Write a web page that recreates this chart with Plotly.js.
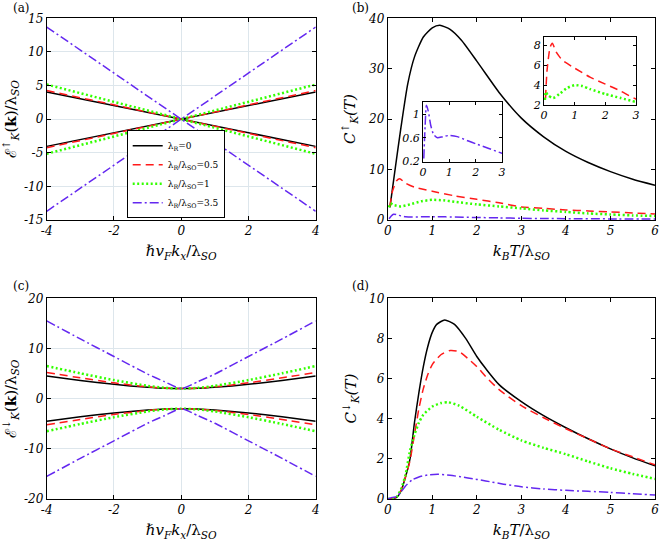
<!DOCTYPE html>
<html>
<head>
<meta charset="utf-8">
<script src="https://cdn.plot.ly/plotly-3.0.1.min.js"></script>
<style>html,body{margin:0;padding:0;background:#fff;}#chart{width:661px;height:543px;}</style>
</head>
<body>
<div id="chart"></div>
<script>
// ---------- data ----------
const seriesNames = ["λ<sub>R</sub>=0", "λ<sub>R</sub>/λ<sub>SO</sub>=0.5", "λ<sub>R</sub>/λ<sub>SO</sub>=1", "λ<sub>R</sub>/λ<sub>SO</sub>=3.5"];

const kA = [-4, -2, 0, 2, 4];
const aBlackRise = [-4.05, -2.02, 0, 2.02, 4.05];
const aBlackFall = [4.05, 2.02, 0, -2.02, -4.05];
const aRedRise = [-4.25, -2.12, 0, 2.12, 4.25];
const aRedFall = [4.25, 2.12, 0, -2.12, -4.25];
const aGreenRise = [-5.15, -2.57, 0, 2.57, 5.15];
const aGreenFall = [5.15, 2.57, 0, -2.57, -5.15];
const aBlueRise = [-13.7, -6.85, 0, 6.85, 13.7];
const aBlueFall = [13.7, 6.85, 0, -6.85, -13.7];

const kC = [-4, -3, -2, -1, -0.5, 0, 0.5, 1, 2, 3, 4];
const cBlackUp = [4.5, 3.6, 2.85, 2.25, 2.05, 2, 2.05, 2.25, 2.85, 3.6, 4.5];
const cBlackDn = [-4.5, -3.6, -2.85, -2.25, -2.05, -2, -2.05, -2.25, -2.85, -3.6, -4.5];
const cRedUp = [5.2, 4.15, 3.15, 2.35, 2.1, 2, 2.1, 2.35, 3.15, 4.15, 5.2];
const cRedDn = [-5.2, -4.15, -3.15, -2.35, -2.1, -2, -2.1, -2.35, -3.15, -4.15, -5.2];
const cGreenUp = [6.5, 5.05, 3.7, 2.55, 2.15, 2, 2.15, 2.55, 3.7, 5.05, 6.5];
const cGreenDn = [-6.5, -5.05, -3.7, -2.55, -2.15, -2, -2.15, -2.55, -3.7, -5.05, -6.5];
const cBlueUp = [15.5, 11.9, 8.4, 4.9, 3.4, 2, 3.4, 4.9, 8.4, 11.9, 15.5];
const cBlueDn = [-15.5, -11.9, -8.4, -4.9, -3.4, -2, -3.4, -4.9, -8.4, -11.9, -15.5];

const bTBlack = [0.05, 0.15, 0.3, 0.45, 0.6, 0.8, 1.0, 1.17, 1.4, 1.66, 2.0, 2.2, 2.5, 3.0, 3.5, 4.0, 4.5, 5.0, 5.5, 6.0];
const bCBlack = [2.5, 9, 18.5, 27, 32.3, 36.3, 38.1, 38.6, 37.8, 35.6, 31.5, 29, 25.3, 20.2, 16.5, 13.6, 11.4, 9.6, 8.1, 6.9];
const bTRed = [0.05, 0.1, 0.2, 0.27, 0.4, 0.6, 1.0, 1.5, 2.0, 2.5, 3.0, 3.5, 4.0, 4.5, 5.0, 5.5, 6.0];
const bCRed = [2.7, 5.5, 7.8, 8.2, 7.3, 6.5, 5.7, 4.8, 4.1, 3.4, 2.6, 2.3, 2.0, 1.8, 1.6, 1.4, 1.2];
const bTGreen = [0.03, 0.06, 0.12, 0.3, 0.5, 0.75, 1.0, 1.25, 1.5, 2.0, 2.5, 3.0, 3.5, 4.0, 4.5, 5.0, 5.5, 6.0];
const bCGreen = [2.5, 3.3, 3.0, 2.7, 3.1, 3.7, 4.0, 3.9, 3.6, 3.1, 2.7, 2.3, 1.9, 1.6, 1.3, 1.1, 0.9, 0.8];
const bTBlue = [0.03, 0.08, 0.13, 0.2, 0.3, 0.4, 0.55, 0.75, 1.0, 1.3, 1.7, 2.0, 2.5, 3.0, 3.5, 4.0, 5.0, 6.0];
const bCBlue = [0.25, 0.8, 1.15, 1.05, 0.8, 0.66, 0.6, 0.62, 0.64, 0.62, 0.55, 0.5, 0.42, 0.34, 0.3, 0.27, 0.22, 0.18];

const dTBlack = [0, 0.1, 0.2, 0.3, 0.4, 0.5, 0.6, 0.7, 0.8, 0.9, 1.0, 1.1, 1.28, 1.5, 1.75, 2.0, 2.2, 2.5, 3.0, 3.5, 4.0, 4.5, 5.0, 5.5, 6.0];
const dCBlack = [0, 0.02, 0.08, 0.4, 1.1, 2.0, 3.8, 5.3, 6.6, 7.6, 8.3, 8.7, 8.92, 8.7, 8.0, 7.1, 6.5, 5.7, 4.85, 4.15, 3.55, 3.0, 2.5, 2.05, 1.65];
const dTRed = [0, 0.2, 0.3, 0.4, 0.5, 0.6, 0.7, 0.8, 0.9, 1.0, 1.2, 1.4, 1.6, 1.8, 2.0, 2.2, 2.5, 3.0, 3.5, 4.0, 4.5, 5.0, 5.5, 6.0];
const dCRed = [0, 0.1, 0.45, 1.1, 1.9, 3.2, 4.5, 5.5, 6.2, 6.7, 7.2, 7.4, 7.35, 7.0, 6.6, 6.1, 5.45, 4.65, 4.05, 3.5, 3.0, 2.5, 2.1, 1.7];
const dTGreen = [0, 0.1, 0.2, 0.3, 0.4, 0.5, 0.6, 0.7, 0.8, 1.0, 1.2, 1.36, 1.6, 2.0, 2.5, 3.0, 3.5, 4.0, 4.5, 5.0, 5.5, 6.0];
const dCGreen = [0, 0.02, 0.1, 0.5, 1.2, 2.4, 3.2, 3.8, 4.2, 4.6, 4.78, 4.82, 4.65, 4.1, 3.45, 2.92, 2.55, 2.23, 1.87, 1.53, 1.25, 1.0];
const dTBlue = [0, 0.1, 0.2, 0.3, 0.4, 0.55, 0.7, 0.9, 1.13, 1.4, 1.8, 2.2, 2.6, 3.0, 3.5, 4.0, 4.5, 5.0, 5.5, 6.0];
const dCBlue = [0, 0.08, 0.12, 0.35, 0.65, 0.95, 1.1, 1.2, 1.23, 1.18, 1.05, 0.9, 0.74, 0.61, 0.5, 0.43, 0.38, 0.33, 0.26, 0.2];

// tick values and labels
const tickKA = [-4, -2, 0, 2, 4];
const tickKAText = ["-4", "-2", "0", "2", "4"];
const tickEA = [-15, -10, -5, 0, 5, 10, 15];
const tickEAText = ["-15", "-10", "-5", "0", "5", "10", "15"];
const tickEC = [-20, -10, 0, 10, 20];
const tickECText = ["-20", "-10", "0", "10", "20"];
const tickT = [0, 1, 2, 3, 4, 5, 6];
const tickTText = ["0", "1", "2", "3", "4", "5", "6"];
const tickCB = [0, 10, 20, 30, 40];
const tickCBText = ["0", "10", "20", "30", "40"];
const tickCD = [0, 2, 4, 6, 8, 10];
const tickCDText = ["0", "2", "4", "6", "8", "10"];
const tickTIn = [0, 1, 2, 3];
const tickTInText = ["0", "1", "2", "3"];
const tickIn1 = [0.2, 0.6, 1];
const tickIn1Text = ["0.2", "0.6", "1"];
const tickIn2 = [2, 4, 6, 8];
const tickIn2Text = ["2", "4", "6", "8"];

// ---------- styles ----------
const SERIF = 'DejaVu Serif';
const it = arr => arr.map(s => '<i>' + s + '</i>');
const BLACK = '#000000', RED = '#ff1a1a', GREEN = '#33ff00', BLUE = '#6428f0';
const styles = [
  {color: BLACK, width: 1.5, dash: 'solid'},
  {color: RED, width: 1.5, dash: '8px,5px'},
  {color: GREEN, width: 2.5, dash: '2px,2.5px'},
  {color: BLUE, width: 1.5, dash: '9px,3px,2px,3px'}
];
const W = 661, H = 543;
const px = v => v / W;
const py = v => 1 - v / H;

const traces = [];
function add(x, y, si, xa, ya, legend, smooth) {
  traces.push({
    type: 'scatter', mode: 'lines', x: x, y: y,
    xaxis: xa, yaxis: ya,
    name: seriesNames[si], legendgroup: 'g' + si, showlegend: !!legend,
    line: Object.assign({}, styles[si], smooth ? {shape: 'spline', smoothing: 0.6} : {}),
    hoverinfo: 'skip'
  });
}
add(kA, aBlackRise, 0, 'x', 'y', true); add(kA, aBlackFall, 0, 'x', 'y', false);
add(kA, aRedRise, 1, 'x', 'y', true); add(kA, aRedFall, 1, 'x', 'y', false);
add(kA, aGreenRise, 2, 'x', 'y', true); add(kA, aGreenFall, 2, 'x', 'y', false);
add(kA, aBlueRise, 3, 'x', 'y', true); add(kA, aBlueFall, 3, 'x', 'y', false);
add(bTBlack, bCBlack, 0, 'x2', 'y2', false, true);
add(bTRed, bCRed, 1, 'x2', 'y2', false, true);
add(bTGreen, bCGreen, 2, 'x2', 'y2', false, true);
add(bTBlue, bCBlue, 3, 'x2', 'y2', false, true);
add(kC, cBlackUp, 0, 'x3', 'y3', false, true); add(kC, cBlackDn, 0, 'x3', 'y3', false, true);
add(kC, cRedUp, 1, 'x3', 'y3', false, true); add(kC, cRedDn, 1, 'x3', 'y3', false, true);
add(kC, cGreenUp, 2, 'x3', 'y3', false, true); add(kC, cGreenDn, 2, 'x3', 'y3', false, true);
add(kC, cBlueUp, 3, 'x3', 'y3', false, true); add(kC, cBlueDn, 3, 'x3', 'y3', false, true);
add(dTBlack, dCBlack, 0, 'x4', 'y4', false, true);
add(dTRed, dCRed, 1, 'x4', 'y4', false, true);
add(dTGreen, dCGreen, 2, 'x4', 'y4', false, true);
add(dTBlue, dCBlue, 3, 'x4', 'y4', false, true);
add(bTBlue, bCBlue, 3, 'x5', 'y5', false, true);
add(bTRed, bCRed, 1, 'x6', 'y6', false, true);
add(bTGreen, bCGreen, 2, 'x6', 'y6', false, true);

const tickFont = {family: SERIF, size: 12, color: '#000'};
const inFont = {family: SERIF, size: 11, color: '#000'};
const titleFont = {family: SERIF, size: 15, color: '#000'};
function ax(o) {
  return Object.assign({
    showline: true, linecolor: '#000', linewidth: 1, mirror: 'ticks',
    ticks: 'inside', ticklen: 4, tickcolor: '#000', tickwidth: 1,
    zeroline: false, showgrid: false, tickfont: tickFont, fixedrange: true,
    automargin: false
  }, o);
}
const gridCol = '#dde6ec';
const xA = [px(46.7), px(315.7)], xB = [px(387.7), px(655)];
const yTop = [py(220), py(18.3)], yBot = [py(499), py(298.3)];
const kTitle = 'ℏ<i>v<sub>F</sub>k<sub>x</sub></i>/λ<sub><i>SO</i></sub>';
const tTitle = '<i>k<sub>B</sub>T</i>/λ<sub><i>SO</i></sub>';

const layout = {
  width: W, height: H,
  font: {family: SERIF},
  margin: {l: 0, r: 0, t: 0, b: 0},
  paper_bgcolor: '#fff', plot_bgcolor: '#fff',
  showlegend: true,
  legend: {
    x: px(126.7), y: py(218.3), xanchor: 'left', yanchor: 'bottom',
    bgcolor: '#fff', bordercolor: '#000', borderwidth: 1,
    font: {family: SERIF, size: 9, color: '#000'},
    tracegroupgap: 0
  },
  xaxis: ax({domain: xA, anchor: 'y', range: [-4, 4], tickvals: tickKA, ticktext: it(tickKAText),
    showgrid: true, gridcolor: gridCol, gridwidth: 1,
    title: {text: kTitle, font: titleFont, standoff: 8}}),
  yaxis: ax({domain: yTop, anchor: 'x', range: [-15, 15], tickvals: tickEA, ticktext: it(tickEAText),
    showgrid: true, gridcolor: gridCol, gridwidth: 1,
    title: {text: 'ℰ<sup>↑</sup><sub><i>K</i></sub>(<b>k</b>)/λ<sub><i>SO</i></sub>', font: titleFont, standoff: 3}}),
  xaxis2: ax({domain: xB, anchor: 'y2', range: [0, 6], tickvals: tickT, ticktext: it(tickTText),
    title: {text: tTitle, font: titleFont, standoff: 8}}),
  yaxis2: ax({domain: yTop, anchor: 'x2', range: [0, 40], tickvals: tickCB, ticktext: it(tickCBText),
    title: {text: '<i>C<sup>↑</sup><sub>K</sub>(T)</i>', font: titleFont, standoff: 8}}),
  xaxis3: ax({domain: xA, anchor: 'y3', range: [-4, 4], tickvals: tickKA, ticktext: it(tickKAText),
    showgrid: true, gridcolor: gridCol, gridwidth: 1,
    title: {text: kTitle, font: titleFont, standoff: 8}}),
  yaxis3: ax({domain: yBot, anchor: 'x3', range: [-20, 20], tickvals: tickEC, ticktext: it(tickECText),
    showgrid: true, gridcolor: gridCol, gridwidth: 1,
    title: {text: 'ℰ<sup>↓</sup><sub><i>K</i></sub>(<b>k</b>)/λ<sub><i>SO</i></sub>', font: titleFont, standoff: 3}}),
  xaxis4: ax({domain: xB, anchor: 'y4', range: [0, 6], tickvals: tickT, ticktext: it(tickTText),
    title: {text: tTitle, font: titleFont, standoff: 8}}),
  yaxis4: ax({domain: yBot, anchor: 'x4', range: [0, 10], tickvals: tickCD, ticktext: it(tickCDText),
    title: {text: '<i>C<sup>↓</sup><sub>K</sub>(T)</i>', font: titleFont, standoff: 8}}),
  xaxis5: ax({domain: [px(423), px(502)], anchor: 'y5', range: [0, 3], tickvals: tickTIn, ticktext: it(tickTInText), tickfont: inFont, ticklen: 3}),
  yaxis5: ax({domain: [py(161.5), py(102.3)], anchor: 'x5', range: [0.2, 1.2], tickvals: tickIn1, ticktext: it(tickIn1Text), tickfont: inFont, ticklen: 3}),
  xaxis6: ax({domain: [px(544), px(636)], anchor: 'y6', range: [0, 3], tickvals: tickTIn, ticktext: it(tickTInText), tickfont: inFont, ticklen: 3}),
  yaxis6: ax({domain: [py(105), py(37.3)], anchor: 'x6', range: [2, 8.8], tickvals: tickIn2, ticktext: it(tickIn2Text), tickfont: inFont, ticklen: 3}),
  annotations: [
    {text: '(a)', x: px(11), y: py(8), xref: 'paper', yref: 'paper', xanchor: 'left', yanchor: 'middle', showarrow: false, font: {family: SERIF, size: 12, color: '#000'}},
    {text: '(b)', x: px(350), y: py(8), xref: 'paper', yref: 'paper', xanchor: 'left', yanchor: 'middle', showarrow: false, font: {family: SERIF, size: 12, color: '#000'}},
    {text: '(c)', x: px(11), y: py(286), xref: 'paper', yref: 'paper', xanchor: 'left', yanchor: 'middle', showarrow: false, font: {family: SERIF, size: 12, color: '#000'}},
    {text: '(d)', x: px(350), y: py(286), xref: 'paper', yref: 'paper', xanchor: 'left', yanchor: 'middle', showarrow: false, font: {family: SERIF, size: 12, color: '#000'}}
  ]
};

Plotly.newPlot('chart', traces, layout, {displayModeBar: false, staticPlot: true});
</script>
</body>
</html>
